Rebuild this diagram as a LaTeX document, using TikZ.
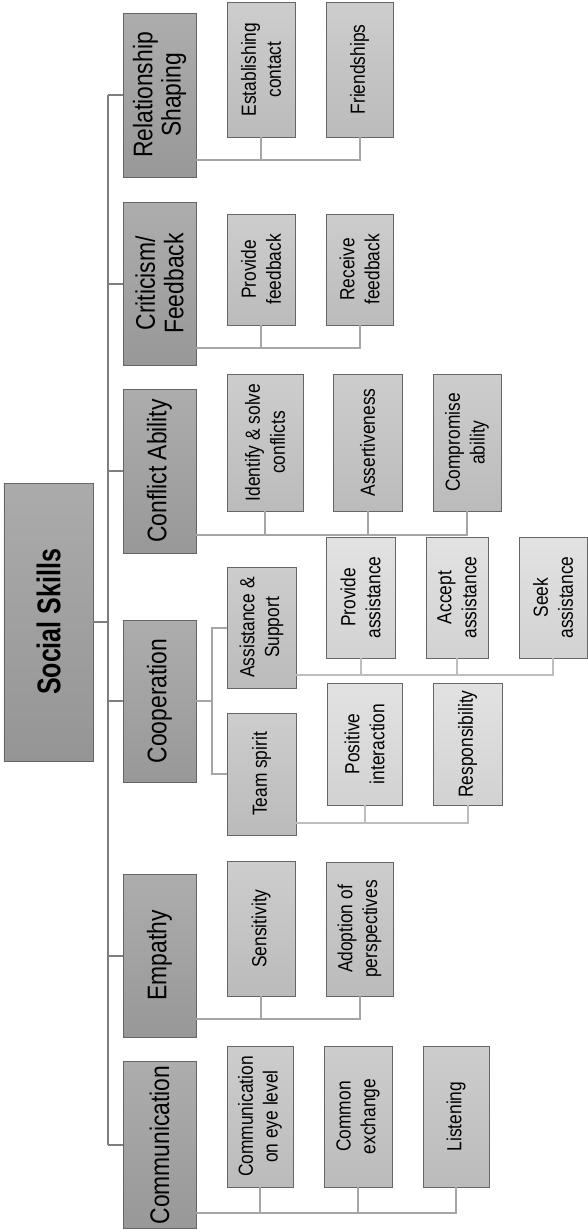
\documentclass[tikz,border=0pt]{standalone}
\usepackage{fontspec}
\setmainfont{Liberation Sans}[FakeStretch=0.85]
\newfontfamily\rootfont{Liberation Sans}[FakeStretch=0.76]
\definecolor{rootA}{HTML}{ABABAB}
\definecolor{rootB}{HTML}{959595}
\definecolor{lvA}{HTML}{ADADAD}
\definecolor{lvB}{HTML}{989898}
\definecolor{lwA}{HTML}{CDCDCD}
\definecolor{lwB}{HTML}{BBBBBB}
\definecolor{lxA}{HTML}{E2E2E2}
\definecolor{lxB}{HTML}{D2D2D2}
\definecolor{edge}{HTML}{666666}
\definecolor{trunkc}{HTML}{7E7E7E}
\definecolor{connA}{HTML}{A6A6A6}
\definecolor{connB}{HTML}{BDBDBD}
\tikzset{
  basebox/.style={draw=edge, line width=0.8bp, rotate=90, inner sep=1pt, align=center},
  rootbox/.style={basebox, top color=rootA, bottom color=rootB, minimum width=278bp, minimum height=89bp, font=\rootfont\fontsize{33}{36}\selectfont\bfseries},
  lone/.style={basebox, top color=lvA, bottom color=lvB, minimum height=73bp, font=\fontsize{27}{28.5}\selectfont},
  ltwo/.style={basebox, top color=lwA, bottom color=lwB, font=\fontsize{20.5}{25}\selectfont},
  lthree/.style={basebox, top color=lxA, bottom color=lxB, font=\fontsize{20.5}{25}\selectfont},
  trunkline/.style={draw=trunkc, line width=2bp},
  conn/.style={draw=connA, line width=2bp},
  connl/.style={draw=connB, line width=2bp},
}
\begin{document}
\begin{tikzpicture}[x=1bp,y=-1bp]
\useasboundingbox (0,0) rectangle (588,1232);
% root
\node[rootbox] (root) at (48.5,622) {Social Skills};
% level 1
\node[lone, minimum width=164bp] (rel)  at (159.5,95)   {Relationship\\Shaping};
\node[lone, minimum width=163bp] (crit) at (159.5,283.5) {Criticism/\\Feedback};
\node[lone, minimum width=164bp] (conf) at (159.5,471)  {Conflict Ability};
\node[lone, minimum width=162bp] (coop) at (159.5,701)  {Cooperation};
\node[lone, minimum width=163bp] (emp)  at (159.5,955.5) {Empathy};
\node[lone, minimum width=167bp] (comm) at (159.5,1145) {Communication};
% trunk
\coordinate (tt) at (108,95);
\coordinate (tb) at (108,1145);
\draw[trunkline] (tt) -- (tb);
\draw[trunkline] (root.south) -- (root.south -| tt);
\foreach \n in {rel,crit,conf,coop,emp,comm}{
  \draw[trunkline] (\n.north) -- (\n.north -| tt);
}
% Relationship Shaping
\node[ltwo, minimum width=135bp, minimum height=68bp] (est) at (261,69.5) {Establishing\\contact};
\node[ltwo, minimum width=135bp, minimum height=67bp] (fri) at (359.5,69.5) {Friendships};
\coordinate (hR) at (0,160);
\draw[conn] (rel.south |- hR) -| (fri.west);
\draw[conn] (est.west) -- (est.west |- hR);
% Criticism / Feedback
\node[ltwo, minimum width=111bp, minimum height=68bp] (pf) at (261,269.5) {Provide\\feedback};
\node[ltwo, minimum width=111bp, minimum height=67bp] (rf) at (359.5,269.5) {Receive\\feedback};
\coordinate (hC) at (0,348);
\draw[conn] (crit.south |- hC) -| (rf.west);
\draw[conn] (pf.west) -- (pf.west |- hC);
% Conflict Ability
\node[ltwo, minimum width=137bp, minimum height=76bp] (ids) at (265,442.5) {Identify \& solve\\conflicts};
\node[ltwo, minimum width=137bp, minimum height=69bp] (ass) at (367.5,442.5) {Assertiveness};
\node[ltwo, minimum width=137bp, minimum height=68bp] (comp) at (467,442.5) {Compromise\\ability};
\coordinate (hF) at (0,535);
\draw[conn] (conf.south |- hF) -| (comp.west);
\draw[conn] (ids.west) -- (ids.west |- hF);
\draw[conn] (ass.west) -- (ass.west |- hF);
% Cooperation
\node[ltwo, minimum width=121bp, minimum height=69bp] (asp) at (261.5,627.5) {Assistance \&\\Support};
\node[ltwo, minimum width=122bp, minimum height=69bp] (ts) at (261.5,774) {Team spirit};
\coordinate (cx) at (212,0);
\draw[conn] (coop.south) -- (coop.south -| cx);
\draw[conn] (asp.north) -- (asp.north -| cx) -- (ts.north -| cx) -- (ts.north);
% Assistance children
\node[lthree, minimum width=121bp, minimum height=69bp] (pa) at (360.5,597.5) {Provide\\assistance};
\node[lthree, minimum width=121bp, minimum height=62bp] (acc) at (457,597.5) {Accept\\assistance};
\node[lthree, minimum width=121bp, minimum height=68bp] (seek) at (553,597.5) {Seek\\assistance};
\coordinate (hA) at (0,675);
\draw[connl] (asp.south |- hA) -| (seek.west);
\draw[connl] (pa.west) -- (pa.west |- hA);
\draw[connl] (acc.west) -- (acc.west |- hA);
% Team spirit children
\node[lthree, minimum width=122bp, minimum height=75bp] (pi) at (364.5,744) {Positive\\interaction};
\node[lthree, minimum width=122bp, minimum height=69bp] (resp) at (467.5,744) {Responsibility};
\coordinate (hT) at (0,823);
\draw[connl] (ts.south |- hT) -| (resp.west);
\draw[connl] (pi.west) -- (pi.west |- hT);
% Empathy
\node[ltwo, minimum width=135bp, minimum height=68bp] (sens) at (261,928.5) {Sensitivity};
\node[ltwo, minimum width=134bp, minimum height=67bp] (adop) at (359.5,929) {Adoption of\\perspectives};
\coordinate (hE) at (0,1019);
\draw[conn] (emp.south |- hE) -| (adop.west);
\draw[conn] (sens.west) -- (sens.west |- hE);
% Communication
\node[ltwo, minimum width=141bp, minimum height=66bp] (cel) at (260,1116.5) {Communication\\on eye level};
\node[ltwo, minimum width=141bp, minimum height=68bp] (ce) at (358,1116.5) {Common\\exchange};
\node[ltwo, minimum width=141bp, minimum height=66bp] (li) at (456,1116.5) {Listening};
\coordinate (hM) at (0,1213);
\draw[conn] (comm.south |- hM) -| (li.west);
\draw[conn] (cel.west) -- (cel.west |- hM);
\draw[conn] (ce.west) -- (ce.west |- hM);
\end{tikzpicture}
\end{document}
